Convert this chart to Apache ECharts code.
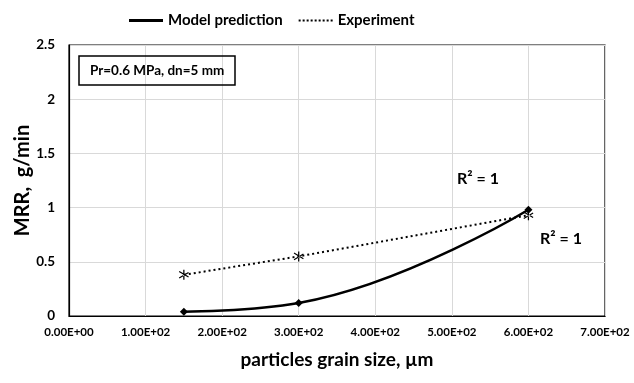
<!DOCTYPE html>
<html><head><meta charset="utf-8">
<script src="https://cdn.jsdelivr.net/npm/echarts@6/dist/echarts.min.js"></script>
<style>html,body{margin:0;padding:0;background:#fff}#c{width:634px;height:383px}</style>
</head><body><div id="c"></div>
<script>
const grainSize = [150, 300, 600];
const modelValues = [0.04, 0.12, 0.98];
const expValues = [0.38, 0.55, 0.93];
const xTickLabels = ['0.00E+00','1.00E+02','2.00E+02','3.00E+02','4.00E+02','5.00E+02','6.00E+02','7.00E+02'];
const yTickLabels = ['0','0.5','1','1.5','2','2.5'];
const FONT = 'Lato';
const chart = echarts.init(document.getElementById('c'));
const star = 'path://M4.4,0h1.2v10h-1.2zM0.2,2.2l0.6,-1l9,5.6l-0.6,1zM0.2,7.8l0.6,1l9,-5.6l-0.6,-1z';
let dots = '';
for (let i = 0; i < 34; i += 4) dots += 'M' + i + ',0h2v2h-2z';
chart.setOption({
  animation: false,
  textStyle: {fontFamily: FONT},
  legend: {
    left: 124, top: 8, itemGap: 16, itemWidth: 34, itemHeight: 3,
    textStyle: {fontFamily: FONT, fontWeight: 'bold', fontSize: 15, color: '#000'},
    data: [
      {name: 'Model prediction', icon: 'path://M0,0h34v3h-34z'},
      {name: 'Experiment', icon: 'path://' + dots}
    ]
  },
  title: {
    text: 'Pr=0.6 MPa, dn=5 mm', left: 79, top: 56,
    borderColor: '#000', borderWidth: 1.5, padding: [8, 11, 7, 11],
    textStyle: {fontFamily: FONT, fontWeight: 'bold', fontSize: 13.5, color: '#000'}
  },
  grid: {left: 69, right: 29, top: 45, bottom: 67, show: true, borderColor: '#000', borderWidth: 1.2},
  xAxis: {
    type: 'value', min: 0, max: 700, interval: 100,
    name: 'particles grain size, µm', nameLocation: 'middle', nameGap: 34, nameMoveOverlap: false,
    nameTextStyle: {fontFamily: FONT, fontWeight: 'bold', fontSize: 19, color: '#000'},
    axisLine: {lineStyle: {color: '#000', width: 1.2}}, axisTick: {show: false},
    axisLabel: {fontFamily: FONT, fontWeight: 'bold', fontSize: 11.5, color: '#000', margin: 10,
      formatter: v => xTickLabels[Math.round(v / 100)]},
    splitLine: {lineStyle: {color: '#d9d9d9'}}
  },
  yAxis: {
    type: 'value', min: 0, max: 2.5, interval: 0.5,
    name: 'MRR,  g/min', nameLocation: 'middle', nameGap: 36, nameMoveOverlap: false,
    nameTextStyle: {fontFamily: FONT, fontWeight: 'bold', fontSize: 20, color: '#000'},
    axisLine: {show: true, lineStyle: {color: '#000', width: 1.2}}, axisTick: {show: false},
    axisLabel: {fontFamily: FONT, fontWeight: 'bold', fontSize: 13.5, color: '#000', margin: 14,
      formatter: v => yTickLabels[Math.round(v / 0.5)]},
    splitLine: {lineStyle: {color: '#d9d9d9'}}
  },
  series: [
    {
      name: 'Model prediction', type: 'line', smooth: 0.45,
      data: grainSize.map((x, i) => [x, modelValues[i]]),
      symbol: 'diamond', symbolSize: 8,
      lineStyle: {color: '#000', width: 2.5}, itemStyle: {color: '#000'}
    },
    {
      name: 'Experiment', type: 'line',
      data: grainSize.map((x, i) => [x, expValues[i]]),
      symbol: star, symbolSize: 10,
      lineStyle: {color: '#000', width: 2, type: [2, 3]}, itemStyle: {color: '#000'}
    }
  ],
  graphic: [
    {type: 'text', left: 457, top: 171, style: {text: 'R² = 1', font: 'bold 16px ' + FONT, fill: '#000'}},
    {type: 'text', left: 540, top: 231, style: {text: 'R² = 1', font: 'bold 16px ' + FONT, fill: '#000'}}
  ]
});
</script></body></html>
